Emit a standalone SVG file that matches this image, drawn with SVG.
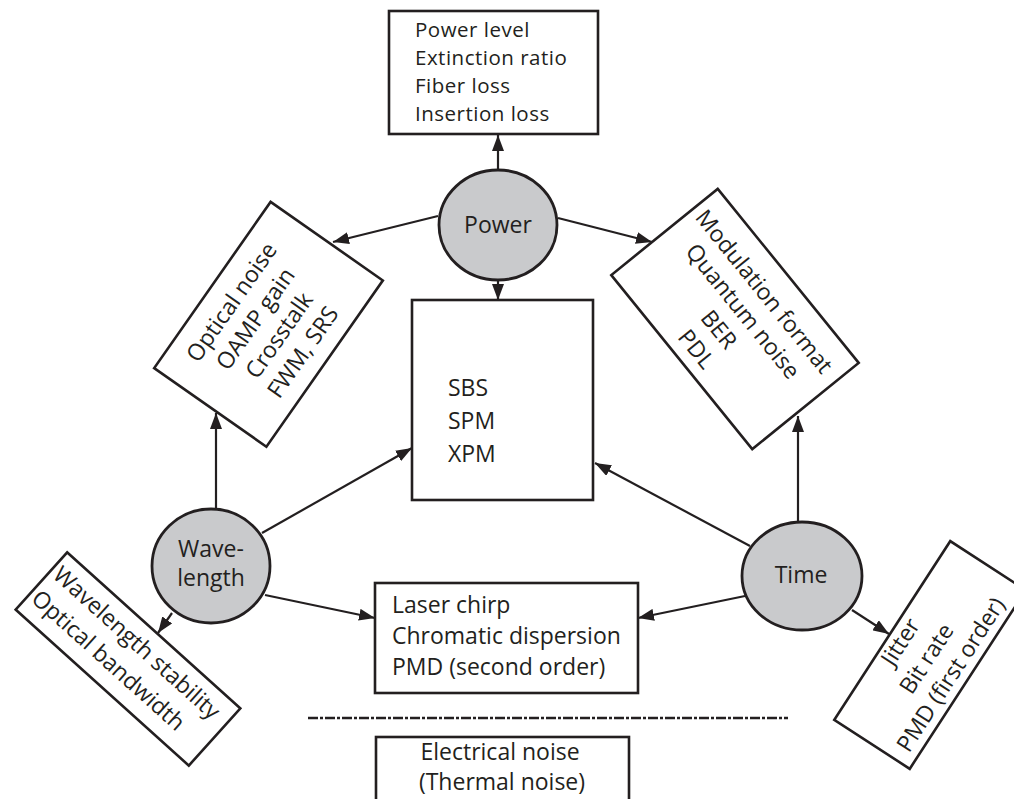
<svg xmlns="http://www.w3.org/2000/svg" width="1014" height="799" viewBox="0 0 1014 799">
  <defs>
    <style>
      .box{fill:#fff;stroke:#231f20;stroke-width:2.6}
      .hub{fill:#c9cacc;stroke:#231f20;stroke-width:2.8}
      .t{font-family:"Open Sans","Noto Sans","DejaVu Sans",sans-serif;font-size:23px;fill:#231f20}
      .s{font-size:20.5px;letter-spacing:0.5px}
      .c{text-anchor:middle}
      .link{stroke:#231f20;stroke-width:2.2;fill:none;marker-end:url(#ah)}
      .sep{stroke:#231f20;stroke-width:2.6;fill:none;stroke-dasharray:10 2 3 2}
    </style>
    <marker id="ah" viewBox="0 0 16 12" refX="16" refY="6" markerWidth="16" markerHeight="12" markerUnits="userSpaceOnUse" orient="auto">
      <path d="M0,0 L16,6 L0,12 z" fill="#231f20"/>
    </marker>
  </defs>

  <!-- connectors -->
  <g id="connectors">
    <line class="link" x1="498" y1="170" x2="498" y2="135"/>
    <line class="link" x1="438" y1="216" x2="333" y2="242"/>
    <line class="link" x1="558" y1="218" x2="652" y2="242"/>
    <line class="link" x1="498" y1="280" x2="498" y2="300"/>
    <line class="link" x1="216" y1="510" x2="216" y2="413"/>
    <line class="link" x1="262" y1="533" x2="412" y2="448"/>
    <line class="link" x1="265" y1="595" x2="375" y2="618"/>
    <line class="link" x1="172" y1="613" x2="158" y2="633"/>
    <line class="link" x1="798" y1="522" x2="798" y2="416"/>
    <line class="link" x1="750" y1="546" x2="595" y2="463"/>
    <line class="link" x1="745" y1="596" x2="638" y2="618"/>
    <line class="link" x1="852" y1="610" x2="889" y2="634"/>
  </g>

  <!-- power-related parameters -->
  <g id="power-params">
    <rect class="box" x="389" y="11" width="209" height="123"/>
    <text class="t s" x="415" y="37">Power level</text>
    <text class="t s" x="415" y="65">Extinction ratio</text>
    <text class="t s" x="415" y="93">Fiber loss</text>
    <text class="t s" x="415" y="121">Insertion loss</text>
  </g>

  <g id="power">
    <ellipse class="hub" cx="498" cy="225" rx="59" ry="55"/>
    <text class="t c" x="498" y="233">Power</text>
  </g>

  <g id="optical-noise">
    <g transform="translate(268.5,324.3) rotate(-55)">
      <rect class="box" x="-101.5" y="-68.5" width="203" height="137"/>
      <text class="t c" x="-3" y="-35">Optical noise</text>
      <text class="t c" x="-3" y="-6">OAMP gain</text>
      <text class="t c" x="-3" y="23">Crosstalk</text>
      <text class="t c" x="-3" y="52">FWM, SRS</text>
    </g>
  </g>

  <g id="modulation">
    <g transform="translate(735,319) rotate(51)">
      <rect class="box" x="-112" y="-68.5" width="224" height="137"/>
      <text class="t c" x="-3" y="-32">Modulation format</text>
      <text class="t c" x="-1" y="-3">Quantum noise</text>
      <text class="t c" x="-2" y="27">BER</text>
      <text class="t c" x="-1" y="57">PDL</text>
    </g>
  </g>

  <g id="nonlinear">
    <rect class="box" x="412" y="300" width="181" height="200"/>
    <text class="t" x="448" y="396">SBS</text>
    <text class="t" x="448" y="429">SPM</text>
    <text class="t" x="448" y="462">XPM</text>
  </g>

  <g id="wavelength">
    <ellipse class="hub" cx="211" cy="566" rx="59" ry="57"/>
    <text class="t c" x="211" y="557">Wave-</text>
    <text class="t c" x="211" y="586">length</text>
  </g>

  <g id="time">
    <ellipse class="hub" cx="802" cy="576" rx="60" ry="54"/>
    <text class="t c" x="801" y="583">Time</text>
  </g>

  <g id="dispersion">
    <rect class="box" x="375" y="583" width="263" height="110"/>
    <text class="t" x="392" y="613">Laser chirp</text>
    <text class="t" x="392" y="644">Chromatic dispersion</text>
    <text class="t" x="392" y="675">PMD (second order)</text>
  </g>

  <g id="wavelength-params">
    <g transform="translate(128,659) rotate(42)">
      <rect class="box" x="-116.5" y="-38.5" width="233" height="77"/>
      <text class="t" x="-112" y="-10">Wavelength stability</text>
      <text class="t" x="-112" y="22">Optical bandwidth</text>
    </g>
  </g>

  <g id="timing-params">
    <g transform="translate(930,655) rotate(-57)">
      <rect class="box" x="-106.5" y="-45" width="213" height="90"/>
      <text class="t c" x="-5" y="-24">Jitter</text>
      <text class="t c" x="-5" y="7">Bit rate</text>
      <text class="t c" x="-5" y="36">PMD (first order)</text>
    </g>
  </g>

  <line id="separator" class="sep" x1="308" y1="718" x2="788" y2="718"/>

  <g id="electrical">
    <rect class="box" x="376" y="737" width="253" height="75"/>
    <text class="t c" x="500" y="760">Electrical noise</text>
    <text class="t c" x="502" y="790">(Thermal noise)</text>
  </g>
</svg>
